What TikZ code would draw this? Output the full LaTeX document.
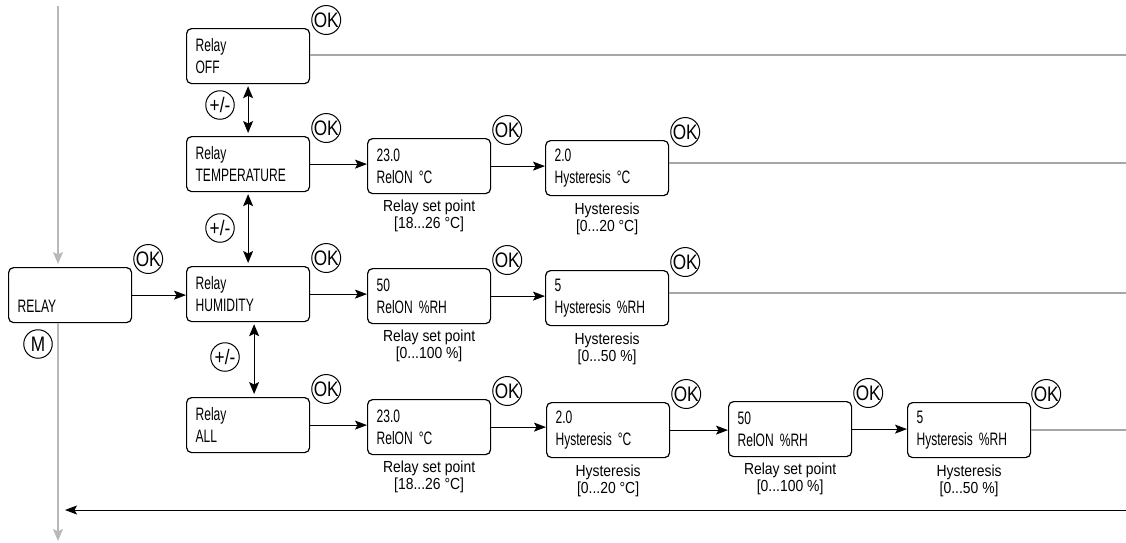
\documentclass[tikz,border=0pt]{standalone}
\usepackage{fontspec}
\setmainfont{Liberation Sans}
\newfontfamily\screenfont{Liberation Sans}[FakeStretch=0.67]
\newfontfamily\notefont{Liberation Sans}[FakeStretch=0.87]
\newfontfamily\keyfont{Liberation Sans}[FakeStretch=0.82]
\usetikzlibrary{positioning,arrows.meta}

\tikzset{
  screen/.style={draw, line width=1.2pt, rounded corners=5pt, minimum width=123pt,
    minimum height=55pt, text width=105pt, inner xsep=9pt, align=left,
    anchor=north west, font=\screenfont\fontsize{18pt}{22pt}\selectfont},
  keybtn/.style={draw, circle, line width=1pt, minimum size=28.5pt, inner sep=0pt,
    font=\keyfont\fontsize{21pt}{21pt}\selectfont},
  note/.style={align=center, inner sep=1pt, font=\notefont\fontsize{16pt}{17pt}\selectfont},
  flow/.style={line width=1pt, -{Stealth[length=12pt,width=9pt,inset=2.5pt]}},
  both/.style={line width=1pt, {Stealth[length=12pt,width=10pt,inset=2.5pt]}-{Stealth[length=12pt,width=10pt,inset=2.5pt]}},
  menuline/.style={draw=black!35, line width=1.5pt},
  mainline/.style={draw=black!28, line width=1.5pt, -{Stealth[length=12pt,width=10pt,inset=2.5pt]}},
}

\begin{document}
\begin{tikzpicture}[x=1pt,y=-1pt]
\useasboundingbox (0,0) rectangle (1126,542);

% main menu
\node[screen] (relay) at (8,267) {\vphantom{R}\\RELAY};
\node[keybtn] (relayok) at ([shift={(16,-8)}]relay.north east) {OK};
\node[keybtn] (mkey) at (38,344) {M};

% relay modes
\node[screen] (off) at (186,28) {Relay\\OFF};
\node[screen] (temp) at (186,136) {Relay\\TEMPERATURE};
\node[screen] (hum) at (186,266) {Relay\\HUMIDITY};
\node[screen] (all) at (186,397) {Relay\\ALL};
\node[keybtn] (offok) at ([shift={(16,-8)}]off.north east) {OK};
\node[keybtn] (tempok) at ([shift={(16,-8)}]temp.north east) {OK};
\node[keybtn] (humok) at ([shift={(16,-8)}]hum.north east) {OK};
\node[keybtn] (allok) at ([shift={(16,-8)}]all.north east) {OK};
\node[keybtn] (pm1) at (220,105) {+/-};
\node[keybtn] (pm2) at (220,228) {+/-};
\node[keybtn] (pm3) at (225,357) {+/-};

% temperature
\node[screen] (tset) at (367,138) {23.0\\RelON °C};
\node[screen] (thys) at (545,140) {2.0\\Hysteresis °C};
\node[keybtn] (tsetok) at ([shift={(16,-8)}]tset.north east) {OK};
\node[keybtn] (thysok) at ([shift={(16,-8)}]thys.north east) {OK};
\node[note, below=4pt of tset] (tsetnote) {Relay set point\\{}[18...26 °C]};
\node[note, below=5pt of thys] (thysnote) {Hysteresis\\{}[0...20 °C]};

% humidity
\node[screen] (hset) at (367,268) {50\\RelON \%RH};
\node[screen] (hhys) at (545,270) {5\\Hysteresis \%RH};
\node[keybtn] (hsetok) at ([shift={(16,-8)}]hset.north east) {OK};
\node[keybtn] (hhysok) at ([shift={(16,-8)}]hhys.north east) {OK};
\node[note, below=4pt of hset] (hsetnote) {Relay set point\\{}[0...100 \%]};
\node[note, below=5pt of hhys] (hhysnote) {Hysteresis\\{}[0...50 \%]};

% all
\node[screen] (aset) at (367,399) {23.0\\RelON °C};
\node[screen] (ahys) at (546,402) {2.0\\Hysteresis °C};
\node[screen] (ahset) at (728,401) {50\\RelON \%RH};
\node[screen] (ahhys) at (907,402) {5\\Hysteresis \%RH};
\node[keybtn] (asetok) at ([shift={(16,-8)}]aset.north east) {OK};
\node[keybtn] (ahysok) at ([shift={(16,-8)}]ahys.north east) {OK};
\node[keybtn] (ahsetok) at ([shift={(16,-8)}]ahset.north east) {OK};
\node[keybtn] (ahhysok) at ([shift={(15,-8)}]ahhys.north east) {OK};
\node[note, below=4pt of aset] (asetnote) {Relay set point\\{}[18...26 °C]};
\node[note, below=5pt of ahys] (ahysnote) {Hysteresis\\{}[0...20 °C]};
\node[note, below=4pt of ahset] (ahsetnote) {Relay set point\\{}[0...100 \%]};
\node[note, below=5pt of ahhys] (ahhysnote) {Hysteresis\\{}[0...50 \%]};

% edges
\coordinate (mtop) at (58,6);
\coordinate (mbot) at (58,541);
\coordinate (back) at (1126,510);
\coordinate (r1) at (1126,55);
\coordinate (r2) at (1126,163);
\coordinate (r3) at (1126,293);
\coordinate (r4) at (1126,430);

% main line
\draw[mainline, shorten >=3pt] (mtop) -- (mtop |- relay.north);
\draw[mainline] (mtop |- relay.south) -- (mbot);
\draw[flow, shorten >=7pt] (back) -- (back -| mbot);

% connectors
\draw[flow] (relay.east) -- (relay.east -| hum.west);
\draw[both, shorten <=2pt, shorten >=3pt] (off.south) -- (temp.north);
\draw[both, shorten <=2pt, shorten >=3pt] (temp.south) -- (hum.north);
\draw[both, shorten <=2pt, shorten >=3pt] ([xshift=6pt]hum.south) -- ([xshift=6pt]all.north);
\draw[flow] (temp.east) -- (temp.east -| tset.west);
\draw[flow] (tset.east) -- (tset.east -| thys.west);
\draw[flow] (hum.east) -- (hum.east -| hset.west);
\draw[flow] (hset.east) -- (hset.east -| hhys.west);
\draw[flow] (all.east) -- (all.east -| aset.west);
\draw[flow] (aset.east) -- (aset.east -| ahys.west);
\draw[flow] (ahys.east) -- (ahys.east -| ahset.west);
\draw[flow] (ahset.east) -- (ahset.east -| ahhys.west);

% exits
\draw[menuline] (off.east |- r1) -- (r1);
\draw[menuline] (thys.east |- r2) -- (r2);
\draw[menuline] (hhys.east |- r3) -- (r3);
\draw[menuline] (ahhys.east |- r4) -- (r4);
\end{tikzpicture}
\end{document}
